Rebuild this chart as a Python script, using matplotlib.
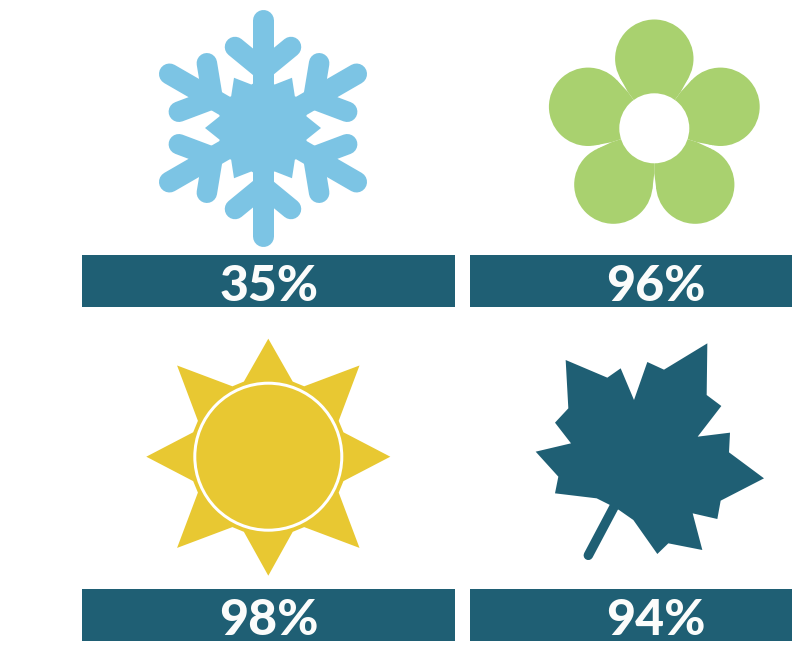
import numpy as np
import matplotlib
matplotlib.use("Agg")
import matplotlib.pyplot as plt
from matplotlib.patches import Polygon, Circle, Rectangle

seasons = ["winter", "spring", "summer", "autumn"]
percent_values = [35, 96, 98, 94]
bar_color = "#1f5f74"
snow_color = "#7cc4e4"
flower_color = "#a9d16f"
sun_color = "#e8c832"

W, H = 792, 651
fig = plt.figure(figsize=(W / 100, H / 100), dpi=100, facecolor="white")
ax = fig.add_axes([0, 0, 1, 1])
ax.set_xlim(0, W)
ax.set_ylim(H, 0)
ax.axis("off")

PX = 0.72  # points per pixel


def polar(cx, cy, r, deg):
    a = np.radians(deg)
    return cx + r * np.sin(a), cy - r * np.cos(a)


# Label bars
bar_pos = [(82, 255, 373), (470, 255, 322), (82, 589, 373), (470, 589, 322)]
text_x = [269, 656, 269, 656]
for (x, y, w), tx, v in zip(bar_pos, text_x, percent_values):
    ax.add_patch(Rectangle((x, y), w, 52, fc=bar_color, ec="none"))
    ax.text(tx, y + 27.5, f"{v}%", color="#fbfcfb", ha="center", va="center_baseline",
            fontsize=36, family="Lato", fontweight=900)

# Snowflake
cx, cy = 263, 128
star = []
for k in range(6):
    mid = 30 + 60 * k
    star.append(polar(cx, cy, 45, mid - 15))
    star.append(polar(cx, cy, 58, mid))
    star.append(polar(cx, cy, 45, mid + 15))
    star.append(polar(cx, cy, 50, mid + 30))
ax.add_patch(Polygon(star, closed=True, fc=snow_color, ec="none"))
for k in range(6):
    deg = 60 * k
    a = np.radians(deg)
    ux, uy = np.sin(a), -np.cos(a)
    px, py = np.cos(a), np.sin(a)
    tip = (cx + 108 * ux, cy + 108 * uy)
    ax.plot([cx, tip[0]], [cy, tip[1]], color=snow_color, lw=21 * PX,
            solid_capstyle="round")
    base = (cx + 58 * ux, cy + 58 * uy)
    for s in (-1, 1):
        end = (cx + 81 * ux + s * 28 * px, cy + 81 * uy + s * 28 * py)
        ax.plot([base[0], end[0]], [base[1], end[1]], color=snow_color,
                lw=20.5 * PX, solid_capstyle="round")

# Flower: round petals with a tangent wedge running in to the shared ring
cx, cy = 654.3, 128.3
pet_r, pet_d, slit_r = 39.2, 69.6, 45
for k in range(5):
    c = np.array(polar(cx, cy, pet_d, 72 * k))
    ax.add_patch(Circle(c, pet_r, fc=flower_color, ec="none"))
    pts = [np.array([cx, cy])]
    for s in (-1, 1):
        t = np.array(polar(cx, cy, slit_r, 72 * k + s * 36))
        v = t - c
        d = np.hypot(*v)
        beta = np.arccos(pet_r / d)
        best = None
        for b in (beta, -beta):
            rot = np.array([[np.cos(b), -np.sin(b)], [np.sin(b), np.cos(b)]])
            q = c + rot @ v / d * pet_r
            if best is None or np.hypot(q[0] - cx, q[1] - cy) > np.hypot(best[0] - cx, best[1] - cy):
                best = q
        pts_side = [t, best]
        pts += pts_side if s == -1 else pts_side[::-1]
    ax.add_patch(Polygon(pts, closed=True, fc=flower_color, ec="none"))
ax.add_patch(Circle((cx, cy), 35, fc="white", ec="none", zorder=3))

# Sun
cx, cy = 268.3, 456.7
ray_tips = [118, 129, 122, 129, 119, 129, 122, 129]
rays = []
for k, tip_r in enumerate(ray_tips):
    rays.append(polar(cx, cy, tip_r, 45 * k))
    rays.append(polar(cx, cy, 79, 45 * k + 18))
    rays.append(polar(cx, cy, 79, 45 * k + 27))
ax.add_patch(Polygon(rays, closed=True, fc=sun_color, ec="none"))
ax.add_patch(Circle((cx, cy), 73.5, fc=sun_color, ec="white", lw=3 * PX))

# Leaf (outline traced in a 3x crop whose origin is 520,330)
leaf_outline = np.array([
    (137, 90), (262, 143), (302, 115), (342, 210), (382, 96), (432, 119),
    (562, 40), (560, 195), (604, 228), (533, 320), (630, 308), (627, 367),
    (732, 445), (602, 512), (592, 567), (518, 550), (547, 660), (445, 640),
    (412, 672), (340, 570), (297, 540), (270, 525), (230, 505), (105, 490),
    (115, 440), (47, 365), (153, 340), (105, 278), (145, 235),
], dtype=float) / 3 + (520, 330)
ax.add_patch(Polygon(leaf_outline, closed=True, fc=bar_color, ec="none"))
stem = np.array([(285, 525), (205, 676)], dtype=float) / 3 + (520, 330)
ax.plot(stem[:, 0], stem[:, 1], color=bar_color, lw=9.5 * PX, solid_capstyle="round")

fig.savefig("out.png", dpi=100, facecolor="white")
